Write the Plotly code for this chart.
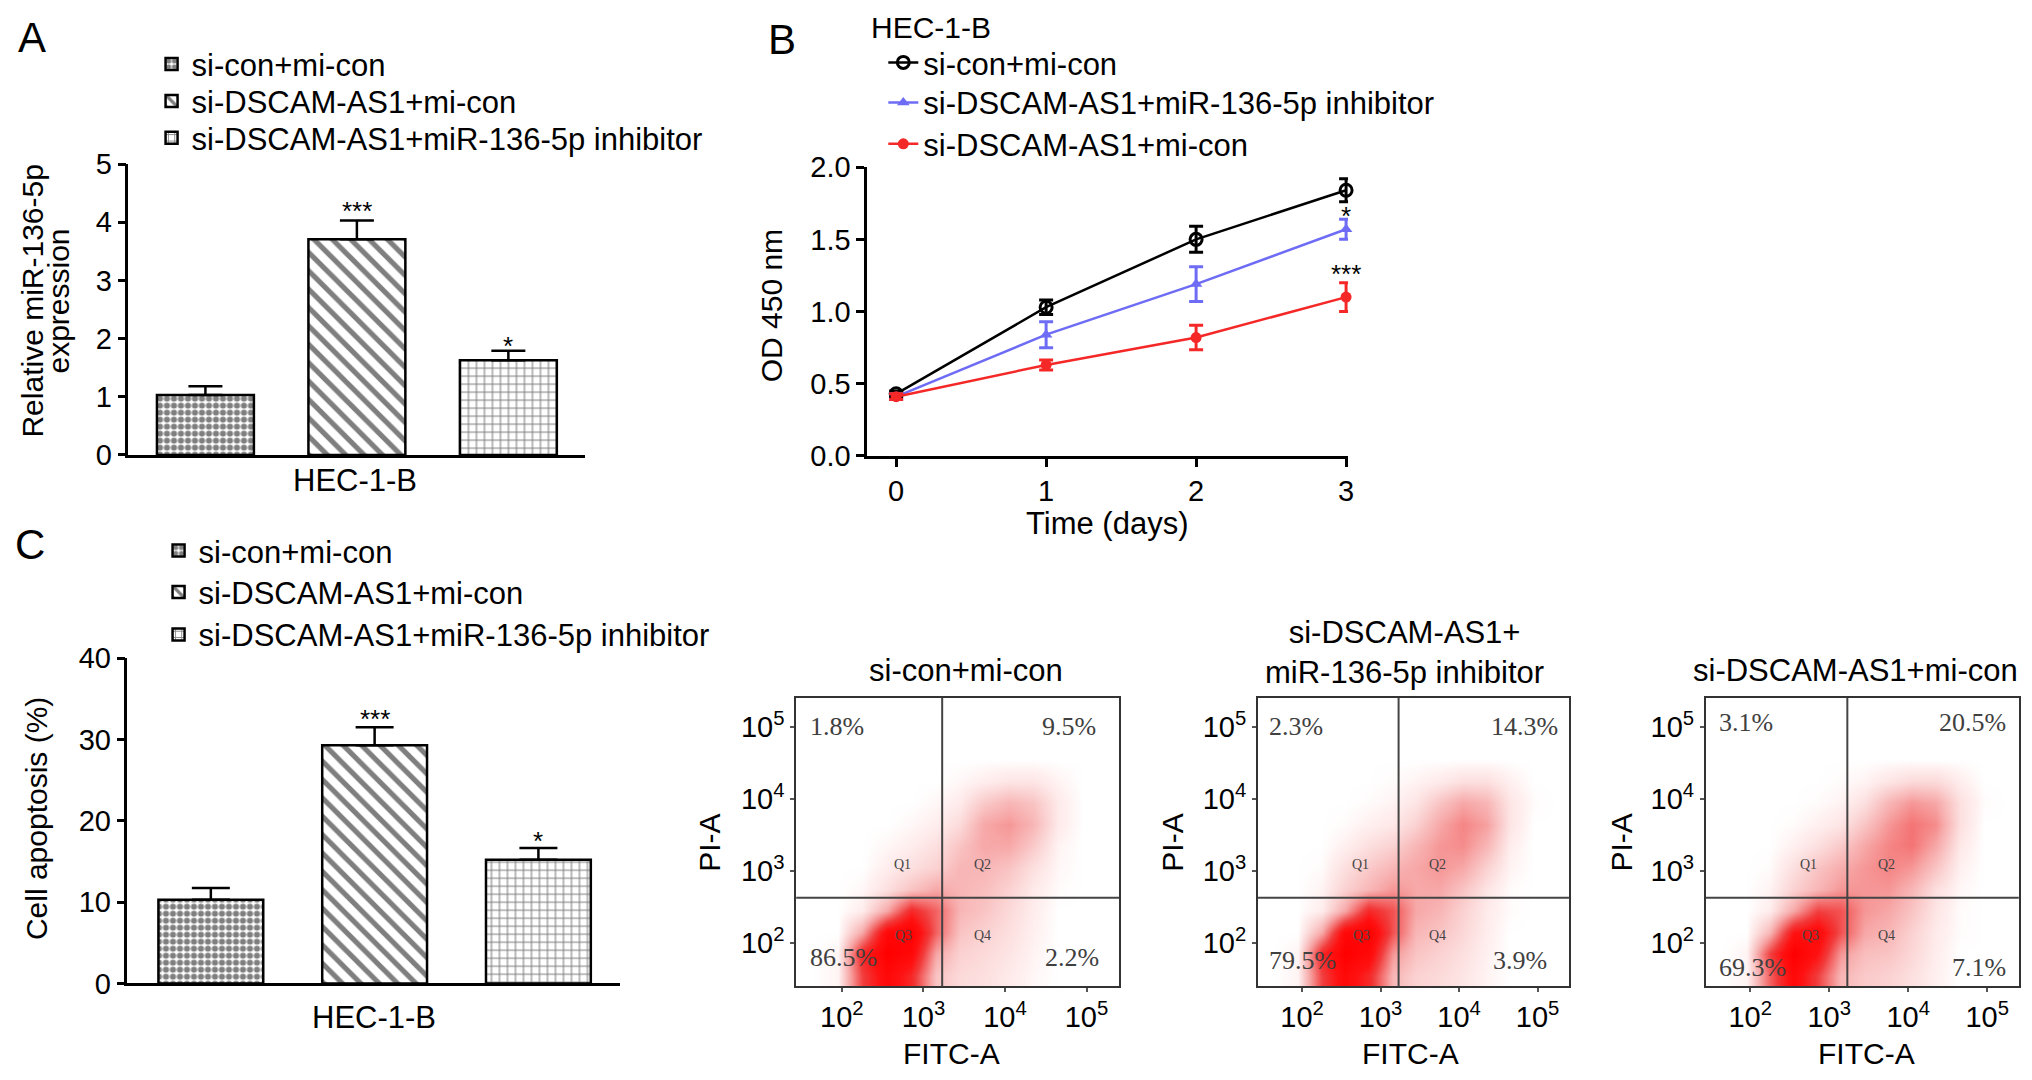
import plotly.graph_objects as go

# Figure canvas; positions below are given in reference-page pixels (2032 x 1080)
# and mapped onto the canvas by px()/py().
W, H = 2030, 1090
FONT = "Liberation Sans, Arial, Helvetica, sans-serif"
SERIF = "Liberation Serif, Times New Roman, serif"

# ---------------- data ----------------
BAR_GROUPS = ["si-con+mi-con", "si-DSCAM-AS1+mi-con", "si-DSCAM-AS1+miR-136-5p inhibitor"]
BAR_CATEGORY = "HEC-1-B"

A_VALUES = [1.03, 3.71, 1.63]
A_ERRORS = [0.15, 0.32, 0.16]
A_STARS = ["", "***", "*"]
A_YTICKS = [0, 1, 2, 3, 4, 5]

B_DAYS = [0, 1, 2, 3]
B_NAMES = ["si-con+mi-con", "si-DSCAM-AS1+miR-136-5p inhibitor", "si-DSCAM-AS1+mi-con"]
B_CON = [0.43, 1.03, 1.50, 1.84]
B_CON_ERR = [0.02, 0.05, 0.09, 0.08]
B_INH = [0.41, 0.84, 1.19, 1.57]
B_INH_ERR = [0.02, 0.09, 0.12, 0.07]
B_SI = [0.41, 0.63, 0.82, 1.10]
B_SI_ERR = [0.02, 0.035, 0.085, 0.10]
B_INH_STARS = ["", "", "", "*"]
B_SI_STARS = ["", "", "", "***"]
B_YTICKS = [0.0, 0.5, 1.0, 1.5, 2.0]

C_VALUES = [10.3, 29.3, 15.2]
C_ERRORS = [1.45, 2.2, 1.45]
C_STARS = ["", "***", "*"]
C_YTICKS = [0, 10, 20, 30, 40]

FLOW_TITLES = ["si-con+mi-con", "si-DSCAM-AS1+<br>miR-136-5p inhibitor", "si-DSCAM-AS1+mi-con"]
FLOW_PCT = [["1.8%", "9.5%", "86.5%", "2.2%"],
            ["2.3%", "14.3%", "79.5%", "3.9%"],
            ["3.1%", "20.5%", "69.3%", "7.1%"]]
FLOW_QUADS = ["Q1", "Q2", "Q3", "Q4"]
FLOW_GATE_X = 3.23
FLOW_GATE_Y = 2.63
FLOW_TICKS = [2, 3, 4, 5]
FLOW_TICKTEXT = ["10<sup>2</sup>", "10<sup>3</sup>", "10<sup>4</sup>", "10<sup>5</sup>"]

# log10 grid centres of the estimated event density (read from the dot clouds)
FLOW_XC = [1.65, 1.95, 2.25, 2.55, 2.85, 3.15, 3.45, 3.75, 4.05, 4.35, 4.65, 4.95, 5.25]
FLOW_YC = [1.55, 1.85, 2.15, 2.45, 2.75, 3.05, 3.35, 3.65, 3.95, 4.25, 4.55, 4.85, 5.15]

FLOW_DENSITY_1 = [
    [0, 0.3, 6, 9, 7, 2, 1.2, 1, 0.6, 0.2, 0, 0, 0],
    [0, 0.3, 7, 10, 9, 3, 1.5, 1.2, 0.8, 0.3, 0, 0, 0],
    [0, 0, 3, 9, 10, 5, 2, 1.5, 1, 0.4, 0, 0, 0],
    [0, 0, 0.5, 3, 7, 5, 2.5, 2, 1.2, 0.5, 0, 0, 0],
    [0, 0, 0.2, 1, 2, 3, 2.5, 2.2, 1.5, 0.6, 0.1, 0, 0],
    [0, 0, 0, 0.5, 1, 1.5, 2.5, 2.5, 2, 1, 0.2, 0, 0],
    [0, 0, 0, 0.2, 0.5, 1, 2, 3, 3, 1.8, 0.3, 0, 0],
    [0, 0, 0, 0, 0.2, 0.5, 1.2, 3, 3.5, 2.5, 0.6, 0, 0],
    [0, 0, 0, 0, 0, 0.2, 0.6, 1.8, 2.5, 2, 0.6, 0, 0],
    [0, 0, 0, 0, 0, 0, 0.2, 0.5, 0.8, 0.8, 0.3, 0, 0],
    [0, 0, 0, 0, 0, 0, 0, 0, 0, 0, 0, 0, 0],
    [0, 0, 0, 0, 0, 0, 0, 0, 0, 0, 0, 0, 0],
    [0, 0, 0, 0, 0, 0, 0, 0, 0, 0, 0, 0, 0],
]
FLOW_DENSITY_2 = [
    [0, 0.3, 6, 9, 7, 2.5, 1.5, 1.2, 0.8, 0.3, 0, 0, 0],
    [0, 0.3, 7, 10, 9, 3.5, 2, 1.5, 1, 0.4, 0, 0, 0],
    [0, 0, 3, 9, 10, 5.5, 2.5, 2, 1.3, 0.5, 0, 0, 0],
    [0, 0, 0.5, 3, 7, 5.5, 3, 2.5, 1.5, 0.6, 0.1, 0, 0],
    [0, 0, 0.3, 1.5, 2.5, 3.5, 3, 3, 2, 0.8, 0.1, 0, 0],
    [0, 0, 0.1, 1, 1.8, 2.5, 3, 3.5, 3, 1.5, 0.3, 0, 0],
    [0, 0, 0, 0.4, 1, 1.5, 2.5, 3.5, 3.8, 2.5, 0.5, 0, 0],
    [0, 0, 0, 0.1, 0.4, 0.7, 1.5, 3, 4, 3.2, 0.8, 0, 0],
    [0, 0, 0, 0, 0.1, 0.3, 0.8, 2, 3, 2.5, 0.8, 0.1, 0],
    [0, 0, 0, 0, 0, 0.1, 0.3, 0.6, 1, 1, 0.4, 0, 0],
    [0, 0, 0, 0, 0, 0, 0, 0, 0, 0, 0, 0, 0],
    [0, 0, 0, 0, 0, 0, 0, 0, 0, 0, 0, 0, 0],
    [0, 0, 0, 0, 0, 0, 0, 0, 0, 0, 0, 0, 0],
]
FLOW_DENSITY_3 = [
    [0, 0.3, 5, 9, 6, 2.5, 1.8, 1.5, 1, 0.4, 0, 0, 0],
    [0, 0.3, 6, 10, 8, 3.5, 2.2, 2, 1.3, 0.5, 0, 0, 0],
    [0, 0, 2.5, 8, 9, 5.5, 3, 2.5, 1.5, 0.6, 0.1, 0, 0],
    [0, 0, 0.5, 3, 6, 5.5, 3.5, 3, 2, 0.8, 0.1, 0, 0],
    [0, 0, 0.3, 1.5, 2.5, 3.5, 3.5, 3.5, 2.5, 1, 0.2, 0, 0],
    [0, 0, 0.1, 1, 2, 2.8, 3.5, 4, 3.5, 2, 0.4, 0, 0],
    [0, 0, 0, 0.4, 1, 1.8, 3, 4, 4.5, 3, 0.7, 0, 0],
    [0, 0, 0, 0.1, 0.4, 0.8, 2, 3.5, 4.5, 3.8, 1, 0, 0],
    [0, 0, 0, 0, 0.1, 0.3, 1, 2.5, 3.5, 3, 1, 0.1, 0],
    [0, 0, 0, 0, 0, 0.1, 0.3, 0.8, 1.2, 1.2, 0.5, 0, 0],
    [0, 0, 0, 0, 0, 0, 0, 0, 0, 0, 0, 0, 0],
    [0, 0, 0, 0, 0, 0, 0, 0, 0, 0, 0, 0, 0],
    [0, 0, 0, 0, 0, 0, 0, 0, 0, 0, 0, 0, 0],
]
FLOW_DENSITIES = [FLOW_DENSITY_1, FLOW_DENSITY_2, FLOW_DENSITY_3]


# ---------------- helpers (reference pixel -> paper fraction) ----------------
def px(x):
    return (1.0026 * x - 6.5) / W


def py(y):
    return 1 - (1.0293 * y - 21.3) / H


PATTERNS = [
    dict(shape=".", fgcolor="black", bgcolor="white", size=7, solidity=0.6),
    dict(shape="\\", fgcolor="black", bgcolor="white", size=13, solidity=0.4),
    dict(shape="+", fgcolor="black", bgcolor="white", size=8, solidity=0.25),
]

# one legend per row so rows sit exactly where the reference has them
LEG_A = ["legend", "legend2", "legend3"]
LEG_B = ["legend4", "legend5", "legend6"]
LEG_C = ["legend7", "legend8", "legend9"]

fig = go.Figure()

# ---------------- panel A ----------------
for i, name in enumerate(BAR_GROUPS):
    fig.add_trace(go.Bar(
        x=[i], y=[A_VALUES[i]], width=0.64, name=name, legend=LEG_A[i],
        marker=dict(color="white", line=dict(color="black", width=2.5), pattern=PATTERNS[i]),
        error_y=dict(type="data", symmetric=False, array=[A_ERRORS[i]], arrayminus=[0],
                     color="black", thickness=2.5, width=17),
        xaxis="x", yaxis="y", hoverinfo="skip",
    ))

# ---------------- panel B ----------------
B_STYLE = [
    (B_CON, B_CON_ERR, "black", dict(symbol="circle-open", size=12, color="black", line=dict(width=3, color="black"))),
    (B_INH, B_INH_ERR, "#6e6cf5", dict(symbol="triangle-up", size=11, color="#6e6cf5")),
    (B_SI, B_SI_ERR, "#f52828", dict(symbol="circle", size=11, color="#f52828")),
]
for j, (name, (vals, errs, col, mk)) in enumerate(zip(B_NAMES, B_STYLE)):
    fig.add_trace(go.Scatter(
        x=B_DAYS, y=vals, name=name, legend=LEG_B[j], mode="lines+markers",
        line=dict(color=col, width=2.5), marker=mk, cliponaxis=False,
        error_y=dict(type="data", array=errs, color=col, thickness=3, width=7),
        xaxis="x2", yaxis="y2", hoverinfo="skip",
    ))

# ---------------- panel C ----------------
for i, name in enumerate(BAR_GROUPS):
    fig.add_trace(go.Bar(
        x=[i], y=[C_VALUES[i]], width=0.64, name=name, legend=LEG_C[i],
        marker=dict(color="white", line=dict(color="black", width=2.5), pattern=PATTERNS[i]),
        error_y=dict(type="data", symmetric=False, array=[C_ERRORS[i]], arrayminus=[0],
                     color="black", thickness=2.5, width=19),
        xaxis="x3", yaxis="y3", hoverinfo="skip",
    ))

# ---------------- flow panels ----------------
RED_SCALE = [[0, "#ffffff"], [0.04, "#fff0f0"], [0.15, "#fbd2d2"], [0.3, "#f7a8a8"],
             [0.45, "#f47474"], [0.62, "#f23a3a"], [0.8, "#ff1212"], [1, "#ff0000"]]
for k in range(3):
    fig.add_trace(go.Heatmap(
        x=FLOW_XC, y=FLOW_YC, z=FLOW_DENSITIES[k], zmin=0, zmax=10, zsmooth="best",
        colorscale=RED_SCALE, showscale=False, hoverinfo="skip", showlegend=False,
        xaxis=f"x{4 + k}", yaxis=f"y{4 + k}",
    ))

# ---------------- axes ----------------
axis_common = dict(showgrid=False, zeroline=False, showline=True, linecolor="black", linewidth=2.5,
                   ticks="outside", ticklen=8, tickwidth=2.5, tickcolor="black",
                   tickfont=dict(size=29, color="black", family=FONT))

layout_axes = dict(
    xaxis=dict(axis_common, domain=[px(127), px(584)], range=[-0.508, 2.508], anchor="y",
               ticks="", showticklabels=False),
    yaxis=dict(axis_common, domain=[py(452), py(161)], range=[0, 5], anchor="x", tickvals=A_YTICKS),
    xaxis2=dict(axis_common, domain=[px(866), px(1347)], range=[-0.193, 3.013], anchor="y2",
                tickvals=B_DAYS),
    yaxis2=dict(axis_common, domain=[py(453), py(164)], range=[0, 2.0], anchor="x2",
                tickvals=B_YTICKS, tickformat=".1f"),
    xaxis3=dict(axis_common, domain=[px(126), px(619)], range=[-0.509, 2.5], anchor="y3",
                ticks="", showticklabels=False),
    yaxis3=dict(axis_common, domain=[py(981), py(655.5)], range=[0, 40], anchor="x3",
                tickvals=C_YTICKS),
)

FLOW_XDOM = [(795, 1118), (1257, 1568), (1705, 2018)]
flow_axis = dict(showgrid=False, zeroline=False, showline=True, mirror=True, linecolor="#333333",
                 linewidth=2, ticks="outside", ticklen=4, tickwidth=1.5, tickcolor="#555555",
                 tickvals=FLOW_TICKS, ticktext=FLOW_TICKTEXT,
                 tickfont=dict(size=29, color="black", family=FONT))
for k, (x0, x1) in enumerate(FLOW_XDOM):
    n = 4 + k
    layout_axes[f"xaxis{n}"] = dict(flow_axis, domain=[px(x0), px(x1)], range=[1.44, 5.40], anchor=f"y{n}")
    layout_axes[f"yaxis{n}"] = dict(flow_axis, domain=[py(984), py(695)], range=[1.40, 5.41], anchor=f"x{n}")

# ---------------- annotations ----------------
ann = []


def text(x, y, s, size=31, angle=0, xanchor="center", yanchor="middle", family=FONT, color="black"):
    ann.append(dict(x=px(x), y=py(y), xref="paper", yref="paper", text=s, showarrow=False,
                    textangle=angle, xanchor=xanchor, yanchor=yanchor,
                    font=dict(size=size, family=family, color=color)))


text(30, 34, "A", size=42)
text(781, 36, "B", size=42)
text(28, 542, "C", size=42)

text(868, 24, BAR_CATEGORY, size=30, xanchor="left")
text(354, 478, BAR_CATEGORY)
text(373, 1015, BAR_CATEGORY)

text(31, 298, "Relative miR-136-5p", size=30, angle=-90)
text(57, 298, "expression", size=30, angle=-90)
text(770, 303, "OD 450 nm", size=30, angle=-90)
text(1106, 521, "Time (days)")
text(35, 816, "Cell apoptosis (%)", size=30, angle=-90)


def star(xv, yv, s, xr, yr, shift):
    ann.append(dict(x=xv, y=yv, xref=xr, yref=yr, text=s, showarrow=False,
                    yanchor="bottom", yshift=shift, font=dict(size=26, family=FONT, color="black")))


A_SHIFT = {"***": -7, "*": -12}
C_SHIFT = {"***": -9, "*": -10}
for i, s in enumerate(A_STARS):
    if s:
        star(i, A_VALUES[i] + A_ERRORS[i], s, "x", "y", A_SHIFT[s])
for i, s in enumerate(C_STARS):
    if s:
        star(i, C_VALUES[i] + C_ERRORS[i], s, "x3", "y3", C_SHIFT[s])
for vals, errs, stars, sh in [(B_INH, B_INH_ERR, B_INH_STARS, -14), (B_SI, B_SI_ERR, B_SI_STARS, -8)]:
    for d, s in zip(B_DAYS, stars):
        if s:
            star(d, vals[d] + errs[d], s, "x2", "y2", sh)

FLOW_TITLE_POS = [(965, 668), (1403, 650), (1855, 668)]
FLOW_PI_X = [708, 1171, 1621]
FLOW_FITC_X = [950, 1409, 1866]
PCT_POS = [
    [(0.035, 0.90, "left"), (0.935, 0.90, "right"), (0.035, 0.10, "left"), (0.945, 0.10, "right")],
    [(0.03, 0.90, "left"), (0.97, 0.90, "right"), (0.03, 0.09, "left"), (0.935, 0.09, "right")],
    [(0.035, 0.915, "left"), (0.965, 0.915, "right"), (0.035, 0.065, "left"), (0.965, 0.065, "right")],
]
Q_POS = [(2.74, 3.09), (3.72, 3.09), (2.76, 2.11), (3.72, 2.11)]
for k in range(3):
    n = 4 + k
    tx, ty = FLOW_TITLE_POS[k]
    text(tx, ty, FLOW_TITLES[k])
    text(FLOW_PI_X[k], 840, "PI-A", size=30, angle=-90)
    text(FLOW_FITC_X[k], 1051, "FITC-A", size=30)
    for s, (ax_, ay_, anc) in zip(FLOW_PCT[k], PCT_POS[k]):
        ann.append(dict(x=ax_, y=ay_, xref=f"x{n} domain", yref=f"y{n} domain", text=s, showarrow=False,
                        xanchor=anc, yanchor="middle",
                        font=dict(size=26, family=SERIF, color="#404040")))
    for s, (qx, qy) in zip(FLOW_QUADS, Q_POS):
        ann.append(dict(x=qx, y=qy, xref=f"x{n}", yref=f"y{n}", text=s, showarrow=False,
                        font=dict(size=14, family=SERIF, color="#444444")))

# ---------------- gates ----------------
shapes = []
for k in range(3):
    n = 4 + k
    shapes.append(dict(type="line", xref=f"x{n}", yref=f"y{n} domain", x0=FLOW_GATE_X, x1=FLOW_GATE_X,
                       y0=0, y1=1, line=dict(color="#444444", width=2)))
    shapes.append(dict(type="line", xref=f"x{n} domain", yref=f"y{n}", x0=0, x1=1,
                       y0=FLOW_GATE_Y, y1=FLOW_GATE_Y, line=dict(color="#444444", width=2)))

# ---------------- legends (one row each) ----------------
legend_common = dict(bgcolor="rgba(0,0,0,0)", borderwidth=0, xanchor="left", yanchor="middle",
                     font=dict(size=31, family=FONT, color="black"),
                     itemclick=False, itemdoubleclick=False)
LEG_TEXT_X = {"A": 190, "B": 922, "C": 197}
LEG_ROWS = {"A": [61, 98, 135], "B": [59.5, 99.5, 141], "C": [548, 589.5, 632]}
legends = {}
for key, names in [("A", LEG_A), ("B", LEG_B), ("C", LEG_C)]:
    for nm, yrow in zip(names, LEG_ROWS[key]):
        legends[nm] = dict(legend_common, x=px(LEG_TEXT_X[key]) - 40 / W, y=py(yrow))

fig.update_layout(
    width=W, height=H, margin=dict(l=0, r=0, t=0, b=0),
    paper_bgcolor="white", plot_bgcolor="white",
    font=dict(family=FONT, color="black"),
    barmode="overlay", showlegend=True,
    annotations=ann, shapes=shapes,
    **legends,
    **layout_axes,
)

fig.write_html("out.html")
